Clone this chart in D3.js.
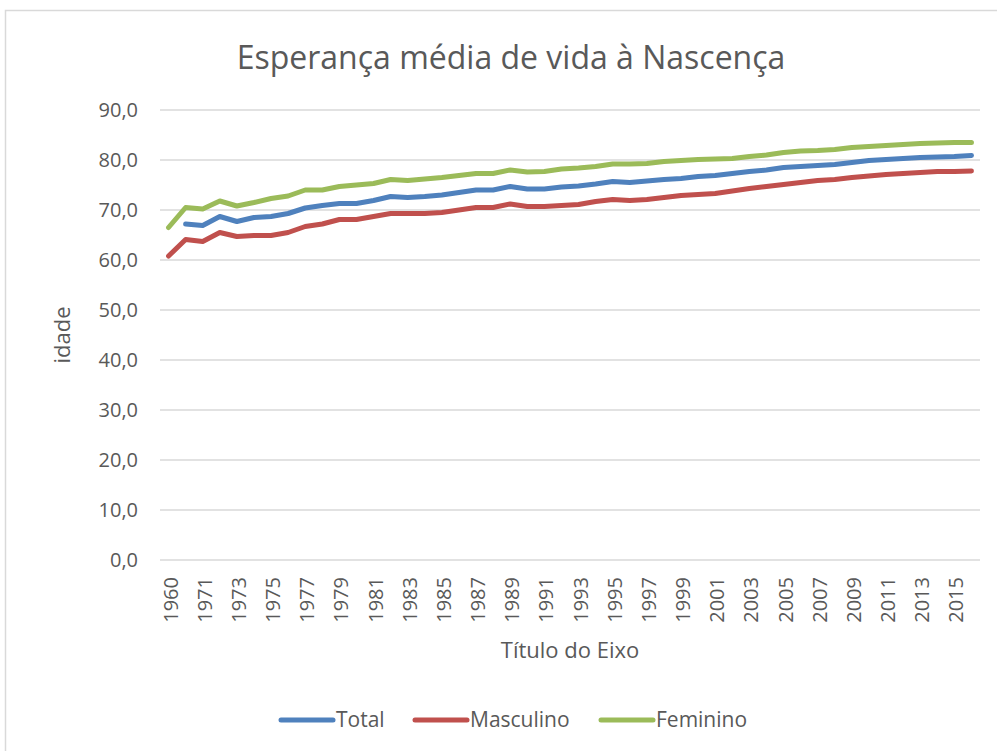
<!DOCTYPE html>
<html>
<head>
<meta charset="utf-8">
<script src="https://cdnjs.cloudflare.com/ajax/libs/d3/7.8.5/d3.min.js"></script>
<style>
  body { margin: 0; background: #fff; }
  text { font-family: "Open Sans", "Liberation Sans", sans-serif; fill: #595959; }
</style>
</head>
<body>
<div id="chart"></div>
<script>
var years = ["1960", "1970"];
for (var yr = 1971; yr <= 2016; yr++) years.push(String(yr));

var total = [null, 67.2, 66.9, 68.7, 67.7, 68.5, 68.7, 69.3, 70.4, 70.9, 71.3, 71.3, 71.9, 72.7,
  72.5, 72.7, 73.0, 73.5, 74.0, 74.0, 74.7, 74.2, 74.2, 74.6, 74.8, 75.2, 75.7, 75.5, 75.8, 76.1,
  76.3, 76.7, 76.9, 77.3, 77.7, 78.0, 78.5, 78.7, 78.9, 79.1, 79.5, 79.9, 80.1, 80.3, 80.5, 80.6,
  80.7, 80.9];
var masculino = [60.8, 64.1, 63.7, 65.5, 64.7, 64.9, 64.9, 65.5, 66.7, 67.2, 68.1, 68.1, 68.7, 69.3,
  69.3, 69.3, 69.5, 70.0, 70.5, 70.5, 71.2, 70.7, 70.7, 70.9, 71.1, 71.7, 72.1, 71.9, 72.1, 72.5,
  72.9, 73.1, 73.3, 73.8, 74.3, 74.7, 75.1, 75.5, 75.9, 76.1, 76.5, 76.8, 77.1, 77.3, 77.5, 77.7,
  77.7, 77.8];
var feminino = [66.5, 70.5, 70.2, 71.8, 70.8, 71.5, 72.3, 72.8, 74.0, 74.0, 74.7, 75.0, 75.3, 76.1,
  75.9, 76.2, 76.5, 76.9, 77.3, 77.3, 78.0, 77.6, 77.7, 78.2, 78.4, 78.7, 79.2, 79.2, 79.3, 79.7,
  79.9, 80.1, 80.2, 80.3, 80.7, 81.0, 81.5, 81.8, 81.9, 82.1, 82.5, 82.7, 82.9, 83.1, 83.3, 83.4,
  83.5, 83.5];
var yTicks = [0, 10, 20, 30, 40, 50, 60, 70, 80, 90];

var series = [
  { name: "Total", values: total, color: "#4f81bd" },
  { name: "Masculino", values: masculino, color: "#c0504d" },
  { name: "Feminino", values: feminino, color: "#9bbb59" }
];

var W = 997, H = 751;
var margin = { top: 110, right: 17, bottom: 191, left: 160 },
  width = W - margin.left - margin.right,
  height = H - margin.top - margin.bottom;

var svg = d3.select("#chart").append("svg")
  .attr("width", W)
  .attr("height", H);

// chart border
svg.append("rect")
  .attr("x", 5.5).attr("y", 10.5)
  .attr("width", 1000).attr("height", 760)
  .attr("fill", "none")
  .attr("stroke", "#d9d9d9")
  .attr("stroke-width", 1.5);

var g = svg.append("g")
  .attr("transform", "translate(" + margin.left + "," + margin.top + ")");

var x = d3.scaleBand()
  .domain(years)
  .range([0, width]);

var y = d3.scaleLinear()
  .domain([0, 90])
  .range([height, 0]);

// gridlines
g.selectAll(".grid")
  .data(yTicks)
  .enter().append("line")
  .attr("x1", 0).attr("x2", width)
  .attr("y1", function(d) { return y(d); })
  .attr("y2", function(d) { return y(d); })
  .attr("stroke", "#d9d9d9")
  .attr("stroke-width", 1.5);

// y axis
var yAxis = g.append("g")
  .call(d3.axisLeft(y).tickValues(yTicks).tickSize(0).tickPadding(22)
    .tickFormat(function(d) { return d3.format(".1f")(d).replace(".", ","); }));
yAxis.select(".domain").remove();
yAxis.selectAll("text")
  .style("font-size", "20px")
  .attr("fill", "#595959");

// x axis
var xAxis = g.append("g")
  .attr("transform", "translate(0," + height + ")")
  .call(d3.axisBottom(x).tickSize(0).tickPadding(0)
    .tickValues(years.filter(function(d, i) { return i % 2 === 0; })));
xAxis.attr("font-size", 20);
xAxis.select(".domain").remove();
xAxis.selectAll("text")
  .style("font-size", "20px")
  .attr("fill", "#595959")
  .attr("text-anchor", "end")
  .attr("y", 0)
  .attr("dy", "0.35em")
  .attr("transform", "translate(2,17) rotate(-90)");

// lines
var line = d3.line()
  .defined(function(d) { return d != null; })
  .x(function(d, i) { return x(years[i]) + x.bandwidth() / 2; })
  .y(function(d) { return y(d); });

g.selectAll(".series")
  .data(series)
  .enter().append("path")
  .attr("class", "series")
  .attr("fill", "none")
  .attr("stroke", function(d) { return d.color; })
  .attr("stroke-width", 5)
  .attr("stroke-linecap", "round")
  .attr("stroke-linejoin", "round")
  .attr("d", function(d) { return line(d.values); });

// title
svg.append("text")
  .attr("x", 511).attr("y", 69)
  .attr("text-anchor", "middle")
  .style("font-size", "32px")
  .text("Esperança média de vida à Nascença");

// axis titles
svg.append("text")
  .attr("transform", "translate(70," + (margin.top + height / 2) + ") rotate(-90)")
  .attr("text-anchor", "middle")
  .style("font-size", "22px")
  .text("idade");

svg.append("text")
  .attr("x", 570).attr("y", 658)
  .attr("text-anchor", "middle")
  .style("font-size", "22px")
  .text("Título do Eixo");

// legend
var legendX = [279, 413, 599];
var legend = svg.selectAll(".legend")
  .data(series)
  .enter().append("g")
  .attr("class", "legend")
  .attr("transform", function(d, i) { return "translate(" + legendX[i] + ",720)"; });

legend.append("line")
  .attr("x1", 2).attr("x2", 54)
  .attr("stroke", function(d) { return d.color; })
  .attr("stroke-width", 5)
  .attr("stroke-linecap", "round");

legend.append("text")
  .attr("x", 57).attr("dy", "0.35em")
  .style("font-size", "21px")
  .text(function(d) { return d.name; });
</script>
</body>
</html>
